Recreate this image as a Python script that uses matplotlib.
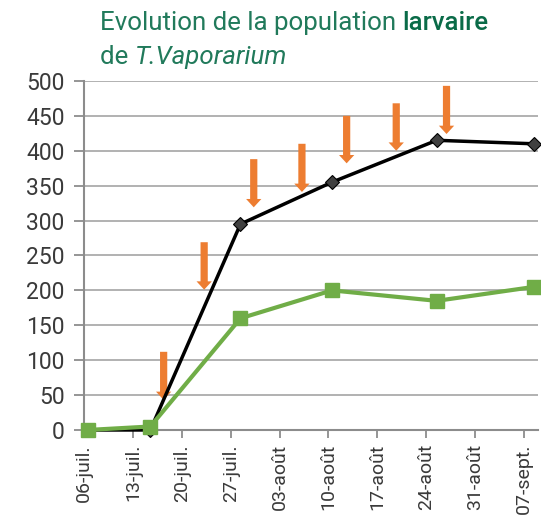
import matplotlib
matplotlib.use("Agg")
import matplotlib.pyplot as plt

plt.rcParams['font.family'] = ['Roboto', 'DejaVu Sans']

# Week tick labels (day offsets from 06-juil.)
tick_labels = ["06-juil.", "13-juil.", "20-juil.", "27-juil.", "03-août",
               "10-août", "17-août", "24-août", "31-août", "07-sept."]
tick_days = [0, 7, 14, 21, 28, 35, 42, 49, 56, 63]

# Sampling days (offset from 06-juil.)
sample_days = [0.5, 9.5, 22.4, 35.5, 50.5, 64.4]
black_series = [0, 0, 295, 355, 415, 410]
green_series = [0, 5, 160, 200, 185, 205]

# Treatment arrows: day, top value, tip value
arrow_days = [11.4, 17.2, 24.3, 31.2, 37.6, 44.7, 51.9]
arrow_tops = [112, 269, 388, 410, 450, 468, 493]
arrow_tips = [43, 201, 319, 341, 382, 400, 424]

yticks = list(range(0, 501, 50))

fig = plt.figure(figsize=(5.41, 5.19), dpi=100)
ax = fig.add_axes([0.1553, 0.1715, 0.8392, 0.6725])

ax.set_xlim(0, 65)
ax.set_ylim(0, 500)
ax.set_yticks(yticks)
ax.set_xticks(tick_days)
ax.set_xticklabels(tick_labels, rotation=90, fontsize=14, color='#3A3A3A')
ax.set_yticklabels([str(v) for v in yticks], fontsize=16.5, color='#3A3A3A')
ax.tick_params(axis='y', length=7, width=1.3, color='#8C8C8C', pad=7)
ax.tick_params(axis='x', length=6, width=1.3, color='#8C8C8C', pad=4)

ax.grid(axis='y', color='#ABABAB', linewidth=1.3)
ax.set_axisbelow(True)
for s in ['top', 'right']:
    ax.spines[s].set_visible(False)
for s in ['left', 'bottom']:
    ax.spines[s].set_color('#8C8C8C')
    ax.spines[s].set_linewidth(1.5)

for d, top, tip in zip(arrow_days, arrow_tops, arrow_tips):
    ax.annotate("", xy=(d, tip), xytext=(d, top),
                arrowprops=dict(arrowstyle="simple,head_length=0.6,head_width=1.1,tail_width=0.52",
                                mutation_scale=10, color='#ED7D31', lw=0,
                                shrinkA=0, shrinkB=0), zorder=3)

ax.plot(sample_days, black_series, color='black', lw=2.5, marker='D',
        markersize=7.5, markerfacecolor='#404040', markeredgecolor='black',
        markeredgewidth=0.8, zorder=4, clip_on=False)
ax.plot(sample_days, green_series, color='#70AD47', lw=3.0, marker='s',
        markersize=10, markerfacecolor='#70AD47', markeredgecolor='#70AD47',
        zorder=5, clip_on=False)

# Title with mixed styles
renderer = fig.canvas.get_renderer()
tcol = '#217A5B'
bcol = '#0A6B48'
fs = 18.6
x0 = 100 / 541
y1 = 1 - 30 / 519
y2 = 1 - 64 / 519
t1 = fig.text(x0, y1, "Evolution de la population ", fontsize=fs, color=tcol,
              ha='left', va='baseline')
bb = t1.get_window_extent(renderer)
fig.text(bb.x1 / fig.bbox.width, y1, "larvaire", fontsize=fs, color=bcol,
         fontweight='medium', ha='left', va='baseline')
t2 = fig.text(x0, y2, "de ", fontsize=fs, color=tcol, ha='left', va='baseline')
bb2 = t2.get_window_extent(renderer)
fig.text(bb2.x1 / fig.bbox.width, y2, "T.Vaporarium", fontsize=fs, color=tcol,
         fontstyle='italic', ha='left', va='baseline')

fig.savefig("out.png", dpi=100)
